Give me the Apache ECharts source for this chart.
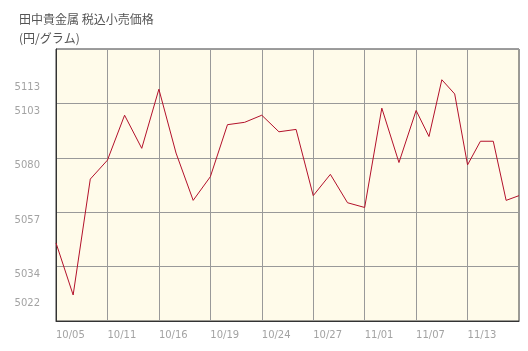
<!DOCTYPE html>
<html>
<head>
<meta charset="utf-8">
<script src="https://cdn.jsdelivr.net/npm/echarts@6/dist/echarts.min.js"></script>
<style>html,body{margin:0;padding:0;background:#fff;}#c{width:528px;height:351px;}</style>
</head>
<body>
<div id="c"></div>
<script>
// Business days (categories)
var dates = ['10/05','10/06','10/10','10/11','10/12','10/13','10/16','10/17','10/18','10/19',
             '10/20','10/23','10/24','10/25','10/26','10/27','10/30','10/31','11/01','11/02',
             '11/06','11/07','11/08','11/09','11/10','11/13','11/14','11/15','11/16','11/17'];
// Price (円/グラム)
var prices = [5044,5022,5071,5079,5098,5084,5109,5082,5062,5072,
              5094,5095,5098,5091,5092,5064,5073,5061,5059,5101,
              5078,5100,5089,5113,5107,5077,5087,5087,5062,5064];
// Labelled dates on the x axis (one vertical grid line each)
var xTickLabels = ['10/05','10/11','10/16','10/19','10/24','10/27','11/01','11/07','11/13'];
// Y axis labels
var yTickLabels = [5022,5034,5057,5080,5103,5113];
var yMin = 5011, yMax = 5126, yStep = 23;

// position of each day: evenly spread between labelled grid lines
var tickIdx = xTickLabels.map(function(l){ return dates.indexOf(l); });
var seriesData = dates.map(function(d, i){
  var s = 0;
  for (var k = 0; k < tickIdx.length; k++) if (tickIdx[k] <= i) s = k;
  var a = tickIdx[s];
  var b = (s + 1 < tickIdx.length) ? tickIdx[s + 1] : dates.length - 1;
  var x = s + (b > a ? (i - a) / (b - a) : 0);
  return [x, prices[i]];
});

var chart = echarts.init(document.getElementById('c'), null, {renderer: 'canvas'});
chart.setOption({
  animation: false,
  backgroundColor: '#ffffff',
  title: {
    text: '田中貴金属 税込小売価格\n(円/グラム)',
    left: 14, top: 5,
    textStyle: {
      fontFamily: '"Noto Sans CJK JP", sans-serif',
      fontSize: 12, fontWeight: 'normal', color: '#555', lineHeight: 19
    }
  },
  grid: {
    left: 56, right: 9, top: 49, bottom: 30,
    show: true, backgroundColor: '#fffbea', borderColor: '#3a3a3a', borderWidth: 1
  },
  xAxis: {
    type: 'value', min: 0, max: xTickLabels.length, interval: 1,
    axisLine: {show: true, lineStyle: {color: '#333', width: 1}},
    axisTick: {show: false},
    splitLine: {show: true, lineStyle: {color: '#999', width: 1}},
    axisLabel: {
      margin: 9, align: 'left', color: '#a3a3a3', fontSize: 10,
      fontFamily: '"DejaVu Sans", Verdana, sans-serif',
      showMaxLabel: false,
      formatter: function(v){ return xTickLabels[Math.round(v)] || ''; }
    }
  },
  yAxis: {
    type: 'value', min: yMin, max: yMax, interval: yStep,
    axisLine: {show: true, lineStyle: {color: '#333', width: 1}},
    axisTick: {show: false},
    splitLine: {show: true, lineStyle: {color: '#999', width: 1}},
    axisLabel: {
      customValues: yTickLabels,
      margin: 16, color: '#a3a3a3', fontSize: 10, verticalAlign: 'top', padding: [3, 0, 0, 0],
      fontFamily: '"DejaVu Sans", Verdana, sans-serif',
      formatter: function(v){ return String(v); }
    }
  },
  series: [{
    type: 'line',
    data: seriesData,
    symbol: 'none',
    lineStyle: {color: '#b3112b', width: 1}
  }]
});
</script>
</body>
</html>
